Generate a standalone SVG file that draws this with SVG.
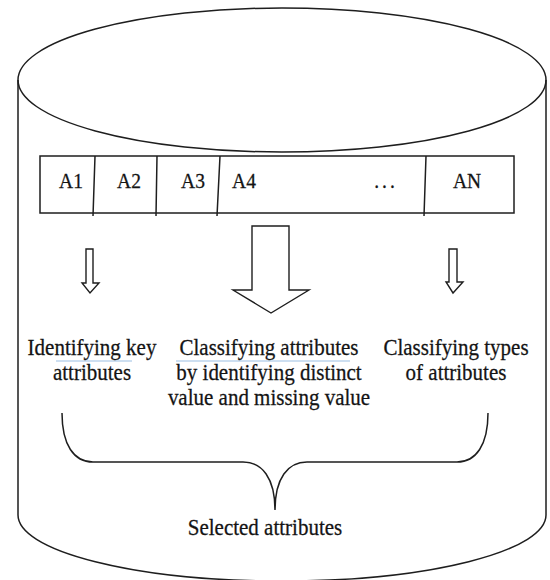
<svg xmlns="http://www.w3.org/2000/svg" width="550" height="580" viewBox="0 0 550 580">
<style>
.ln{fill:none;stroke:#1e1e1e;stroke-width:1.5}
.ar{fill:#fff;stroke:#1e1e1e;stroke-width:1.4;stroke-linejoin:miter}
.t{font-family:"Liberation Serif","Times New Roman",serif;fill:#141414;stroke:#141414;stroke-width:0.25;text-anchor:middle}
.lab{font-size:21px}
.cell{font-size:19.5px}
.ul{stroke:#9cc0e4;stroke-width:1.2}
</style>
<rect width="550" height="580" fill="#fff"/>
<g id="cylinder">
<path class="ln" d="M18,80 L18,515 A264,66 0 0 0 546,515 L546,80"/>
<ellipse class="ln" cx="282" cy="80" rx="264" ry="72" fill="#fff"/>
</g>
<g id="table">
<rect class="ln" x="40" y="156" width="474" height="57"/>
<path class="ln" d="M95,156 L93,216 M157,156 L156,216 M220,156 L217,216 M426,156 L424,216"/>
<text class="t cell" transform="translate(71,188) scale(1,1.12)">A1</text>
<text class="t cell" transform="translate(129,188) scale(1,1.12)">A2</text>
<text class="t cell" transform="translate(193,188) scale(1,1.12)">A3</text>
<text class="t cell" transform="translate(244,188) scale(1,1.12)">A4</text>
<text class="t cell" transform="translate(386,188) scale(1,1.12)" letter-spacing="3">...</text>
<text class="t cell" transform="translate(467,188) scale(1,1.12)">AN</text>
</g>
<g id="connectors">
<path class="ar" d="M86,249 L93,249 L93,283 L99,283 L90,293 L82,283 L86,283 Z"/>
<path class="ar" d="M252,226 L289,226 L289,290 L309,290 L271,313 L233,290 L252,290 Z"/>
<path class="ar" d="M449,249 L457,249 L457,282 L463,282 L453,293 L446,282 L449,282 Z"/>
<path class="ln" d="M62,413 C62,445 74,462 93,462 L243,462 C262,462 275,478 275,510 C275,478 288,462 307,462 L457,462 C476,462 488,445 488,413"/>
</g>
<g id="node-key">
<line class="ul" x1="56" y1="361" x2="132" y2="361"/>
<text class="t lab" transform="translate(92,355) scale(1,1.12)"><tspan x="0" y="0">Identifying key</tspan><tspan x="0" dy="22.3">attributes</tspan></text>
</g>
<g id="node-classify">
<line class="ul" x1="176" y1="361" x2="350" y2="361"/>
<text class="t lab" transform="translate(269,355) scale(1,1.12)"><tspan x="0" y="0">Classifying attributes</tspan><tspan x="0" dy="22.3">by identifying distinct</tspan><tspan x="0" dy="22.3">value and missing value</tspan></text>
</g>
<g id="node-types">
<text class="t lab" transform="translate(456,355) scale(1,1.12)"><tspan x="0" y="0">Classifying types</tspan><tspan x="0" dy="22.3">of attributes</tspan></text>
</g>
<g id="node-selected">
<text class="t lab" transform="translate(265,535) scale(1,1.12)">Selected attributes</text>
</g>
</svg>
